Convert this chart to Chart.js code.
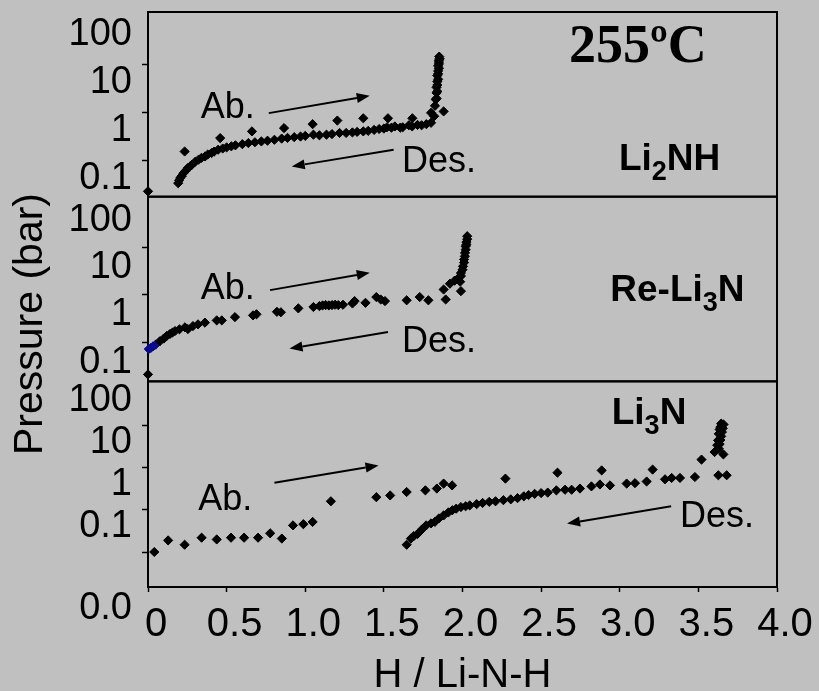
<!DOCTYPE html>
<html>
<head>
<meta charset="utf-8">
<title>PCT isotherms 255ºC</title>
<script src="https://cdn.jsdelivr.net/npm/chart.js@4.4.1/dist/chart.umd.min.js"></script>
<style>
  html, body { margin: 0; padding: 0; background: #c0c0c0; }
  .chart-box { position: relative; width: 819px; height: 691px; }
</style>
</head>
<body>
<div class="chart-box"><canvas id="pctChart" width="819" height="691"></canvas></div>
<script>
const FONT = '"Liberation Sans", Arial, Helvetica, sans-serif';

// H / Li-N-H axis
const xTicks = [0, 0.5, 1, 1.5, 2, 2.5, 3, 3.5, 4];
const xTickLabels = ['0', '0.5', '1.0', '1.5', '2.0', '2.5', '3.0', '3.5', '4.0'];

// pressure axes (bar), one per panel
const upperTicks = [100, 10, 1, 0.1];
const upperTickLabels = ['100', '10', '1', '0.1'];
const lowerTicks = [100, 10, 1, 0.1, 0.01, 0.0015];
const lowerTickLabels = ['100', '10', '1', '0.1', '', '0.0'];

// Li2NH  [H/Li-N-H, bar]
const li2nhAbs = [
  [0, 0.023], [0.233, 0.156], [0.459, 0.297], [0.661, 0.41], [0.865, 0.48], [1.047, 0.58],
  [1.204, 0.69], [1.369, 0.77], [1.526, 0.77], [1.681, 0.77], [1.80, 1.0], [1.825, 1.4],
  [1.835, 2.0], [1.84, 2.8], [1.84, 3.8], [1.845, 5.0], [1.845, 6.5], [1.85, 8.5],
  [1.85, 10.5], [1.85, 12.5], [1.852, 14.9]
];
const li2nhDes = [
  [1.855, 13.5], [1.85, 11.5], [1.845, 9.5], [1.845, 7.5], [1.84, 6.0], [1.84, 4.5],
  [1.835, 3.4], [1.835, 2.6], [1.83, 1.9], [1.88, 1.07], [1.82, 0.85], [1.80, 0.62],
  [1.77, 0.58], [1.74, 0.55], [1.714, 0.56], [1.68, 0.52], [1.659, 0.55], [1.62, 0.50],
  [1.604, 0.49], [1.57, 0.52], [1.548, 0.49], [1.52, 0.50], [1.50, 0.47], [1.47, 0.46],
  [1.438, 0.44], [1.40, 0.42], [1.369, 0.41], [1.33, 0.40], [1.30, 0.39], [1.26, 0.38],
  [1.218, 0.38], [1.17, 0.36], [1.135, 0.35], [1.09, 0.34], [1.052, 0.35], [1.00, 0.33],
  [0.97, 0.32], [0.93, 0.31], [0.887, 0.30], [0.85, 0.29], [0.804, 0.274], [0.76, 0.262],
  [0.721, 0.253], [0.68, 0.243], [0.638, 0.234], [0.60, 0.222], [0.556, 0.21], [0.53, 0.20],
  [0.50, 0.19], [0.475, 0.18], [0.446, 0.17], [0.42, 0.155], [0.404, 0.145], [0.38, 0.135],
  [0.363, 0.123], [0.34, 0.115], [0.321, 0.105], [0.30, 0.095], [0.28, 0.083], [0.265, 0.075],
  [0.252, 0.07], [0.24, 0.062], [0.225, 0.055], [0.215, 0.048], [0.205, 0.044], [0.198, 0.039],
  [0.192, 0.034]
];

// Re-Li3N
const reLi3nAbs = [
  [0, 0.021], [0.076, 0.106], [0.10, 0.12], [0.119, 0.136], [0.14, 0.15], [0.155, 0.16],
  [0.172, 0.173], [0.20, 0.188], [0.235, 0.207], [0.254, 0.19], [0.286, 0.22], [0.318, 0.239],
  [0.362, 0.26], [0.437, 0.29], [0.469, 0.29], [0.553, 0.34], [0.668, 0.37], [0.69, 0.39],
  [0.82, 0.44], [0.845, 0.43], [0.956, 0.52], [1.052, 0.555], [1.09, 0.58], [1.11, 0.60],
  [1.13, 0.61], [1.15, 0.60], [1.17, 0.61], [1.19, 0.62], [1.21, 0.61], [1.24, 0.62],
  [1.30, 0.66], [1.314, 0.74], [1.383, 0.68], [1.452, 0.9], [1.48, 0.8], [1.507, 0.74],
  [1.645, 0.77], [1.728, 0.9], [1.783, 0.77], [1.88, 1.3], [1.92, 1.72], [1.95, 2.0],
  [1.976, 2.3], [1.99, 2.9], [2.003, 4.0], [2.01, 5.6], [2.016, 7.7], [2.02, 10.6],
  [2.025, 13.0], [2.03, 17.3]
];
const reLi3nDes = [
  [2.03, 15.0], [2.025, 11.5], [2.02, 9.0], [2.015, 6.5], [2.01, 4.8], [2.0, 3.4],
  [1.99, 2.5], [1.985, 1.9], [1.99, 1.2], [1.893, 0.8]
];
const reLi3nStart = [[0.005, 0.072], [0.018, 0.076], [0.032, 0.082], [0.048, 0.089]];

// Li3N
const li3nAbs = [
  [0.04, 0.0101], [0.128, 0.019], [0.233, 0.015], [0.341, 0.022], [0.437, 0.020], [0.528, 0.022],
  [0.611, 0.022], [0.70, 0.022], [0.777, 0.028], [0.851, 0.021], [0.922, 0.043], [0.988, 0.046],
  [1.047, 0.052], [1.163, 0.16], [1.452, 0.20], [1.54, 0.22], [1.645, 0.265], [1.764, 0.29],
  [1.837, 0.32], [1.88, 0.42], [1.934, 0.38], [2.273, 0.55], [2.604, 0.76], [2.885, 0.86],
  [3.209, 0.90], [3.52, 1.55], [3.603, 2.34], [3.62, 3.4], [3.625, 4.4], [3.63, 6.3],
  [3.635, 8.0], [3.64, 9.1], [3.645, 11]
];
const li3nDes = [
  [3.66, 10.5], [3.655, 8.5], [3.65, 7.0], [3.645, 5.5], [3.64, 4.5], [3.635, 3.6],
  [3.63, 2.8], [3.659, 2.06], [3.68, 0.66], [3.627, 0.66], [3.478, 0.60], [3.383, 0.57],
  [3.33, 0.57], [3.288, 0.53], [3.171, 0.47], [3.097, 0.43], [3.044, 0.42], [2.938, 0.38],
  [2.874, 0.40], [2.82, 0.36], [2.747, 0.32], [2.694, 0.30], [2.652, 0.30], [2.597, 0.29],
  [2.542, 0.257], [2.50, 0.25], [2.459, 0.24], [2.42, 0.225], [2.39, 0.21], [2.35, 0.19],
  [2.307, 0.178], [2.26, 0.17], [2.21, 0.16], [2.17, 0.155], [2.128, 0.146], [2.09, 0.137],
  [2.046, 0.128], [2.02, 0.122], [1.99, 0.117], [1.96, 0.107], [1.935, 0.098], [1.91, 0.087],
  [1.88, 0.074], [1.85, 0.063], [1.824, 0.052], [1.80, 0.048], [1.769, 0.043], [1.74, 0.034],
  [1.714, 0.027], [1.69, 0.024], [1.672, 0.021], [1.645, 0.015]
];

// text and arrows drawn inside the panels, placed in data units of each panel
const noteTexts = [
  { axis: 'y1', x: 0.335, y: 0.787, parts: ['Ab.'] },
  { axis: 'y1', x: 1.615, y: 0.059, parts: ['Des.'] },
  { axis: 'y1', x: 2.677, y: 11.5, parts: ['255ºC'], serif: true },
  { axis: 'y1', x: 2.995, y: 0.065, parts: ['Li', '_2', 'NH'], bold: true },
  { axis: 'y2', x: 0.335, y: 0.80, parts: ['Ab.'] },
  { axis: 'y2', x: 1.615, y: 0.0616, parts: ['Des.'] },
  { axis: 'y2', x: 2.94, y: 0.73, parts: ['Re-Li', '_3', 'N'], bold: true },
  { axis: 'y3', x: 0.32, y: 0.098, parts: ['Ab.'] },
  { axis: 'y3', x: 3.383, y: 0.0394, parts: ['Des.'] },
  { axis: 'y3', x: 2.949, y: 11.0, parts: ['Li', '_3', 'N'], bold: true }
];
const noteArrows = [
  { axis: 'y1', from: [0.768, 0.986], to: [1.41, 2.26] },
  { axis: 'y1', from: [1.562, 0.169], to: [0.914, 0.076] },
  { axis: 'y2', from: [0.776, 1.26], to: [1.41, 2.93] },
  { axis: 'y2', from: [1.526, 0.165], to: [0.90, 0.0736] },
  { axis: 'y3', from: [0.804, 0.44], to: [1.466, 1.13] },
  { axis: 'y3', from: [3.327, 0.1216], to: [2.665, 0.0474] }
];

function points(rows, axis, color) {
  return {
    data: rows.map(r => ({ x: r[0], y: r[1] })),
    xAxisID: 'x',
    yAxisID: axis,
    showLine: false,
    pointStyle: 'rectRot',
    pointRadius: 4.6,
    pointHoverRadius: 4.6,
    pointBackgroundColor: color,
    pointBorderColor: color,
    pointBorderWidth: 1,
    clip: false
  };
}

function pressureAxis(min, max, ticks, labels, order, stackWeight, labelOffset) {
  return {
    type: 'logarithmic',
    position: 'left',
    stack: 'pressure',
    stackWeight: stackWeight,
    weight: order,
    min: min,
    max: max,
    bounds: 'data',
    afterBuildTicks: scale => { scale.ticks = ticks.map(v => ({ value: v })); },
    afterFit: scale => {
      scale.width = 148;
      scale.paddingTop = 0;
      scale.paddingBottom = 0;
    },
    ticks: {
      autoSkip: false,
      padding: 10,
      labelOffset: labelOffset,
      color: '#000',
      font: ctx => ({ family: FONT, size: 38, lineHeight: labels[ctx.index] === '0.0' ? '10px' : 1.2 }),
      callback: (value, i) => labels[i] === '0.0' ? ['', '0.0'] : labels[i]
    },
    grid: {
      drawOnChartArea: false,
      tickLength: 6,
      tickWidth: 1.5,
      tickColor: ctx => (labels[ctx.index] === '100' || labels[ctx.index] === '0.0') ? 'rgba(0,0,0,0)' : '#000'
    },
    border: { display: false }
  };
}

// boxes round each panel
const panelFrames = {
  id: 'panelFrames',
  beforeDatasetsDraw(chart) {
    const { ctx, chartArea } = chart;
    ctx.save();
    ctx.strokeStyle = '#000';
    ctx.lineWidth = 2;
    ['y1', 'y2', 'y3'].forEach(id => {
      const s = chart.scales[id];
      ctx.strokeRect(chartArea.left, s.top, chartArea.right - chartArea.left, s.bottom - s.top);
    });
    ctx.restore();
  }
};

function drawArrow(ctx, x1, y1, x2, y2) {
  const ang = Math.atan2(y2 - y1, x2 - x1);
  const len = 13, half = 5;
  const bx = x2 - len * Math.cos(ang), by = y2 - len * Math.sin(ang);
  ctx.beginPath();
  ctx.moveTo(x1, y1);
  ctx.lineTo(bx, by);
  ctx.stroke();
  ctx.beginPath();
  ctx.moveTo(x2, y2);
  ctx.lineTo(bx + half * Math.sin(ang), by - half * Math.cos(ang));
  ctx.lineTo(bx - half * Math.sin(ang), by + half * Math.cos(ang));
  ctx.closePath();
  ctx.fill();
}

const panelNotes = {
  id: 'panelNotes',
  afterDatasetsDraw(chart) {
    const { ctx } = chart;
    const xs = chart.scales.x;
    ctx.save();
    ctx.fillStyle = '#000';
    ctx.strokeStyle = '#000';
    ctx.lineWidth = 2;
    ctx.textBaseline = 'alphabetic';
    ctx.textAlign = 'left';

    noteTexts.forEach(n => {
      const ys = chart.scales[n.axis];
      let x = xs.getPixelForValue(n.x);
      const y = ys.getPixelForValue(n.y);
      n.parts.forEach(p => {
        const sub = p.startsWith('_');
        const txt = sub ? p.slice(1) : p;
        if (n.serif) {
          ctx.font = 'bold 54px "Liberation Serif", "Times New Roman", serif';
        } else if (n.bold) {
          ctx.font = 'bold ' + (sub ? 27 : 37) + 'px ' + FONT;
        } else {
          ctx.font = '36px ' + FONT;
        }
        ctx.fillText(txt, x, sub ? y + 10 : y);
        x += ctx.measureText(txt).width;
      });
    });

    noteArrows.forEach(a => {
      const ys = chart.scales[a.axis];
      drawArrow(ctx,
        xs.getPixelForValue(a.from[0]), ys.getPixelForValue(a.from[1]),
        xs.getPixelForValue(a.to[0]), ys.getPixelForValue(a.to[1]));
    });

    // shared pressure title
    ctx.translate(31, 324);
    ctx.rotate(-Math.PI / 2);
    ctx.font = '41px ' + FONT;
    ctx.textAlign = 'center';
    ctx.textBaseline = 'middle';
    ctx.fillText('Pressure (bar)', 0, 0);
    ctx.restore();
  }
};

new Chart(document.getElementById('pctChart'), {
  type: 'scatter',
  data: {
    datasets: [
      points(li2nhAbs, 'y1', '#000'),
      points(li2nhDes, 'y1', '#000'),
      points(reLi3nAbs, 'y2', '#000'),
      points(reLi3nDes, 'y2', '#000'),
      points(reLi3nStart, 'y2', '#0a0a8c'),
      points(li3nAbs, 'y3', '#000'),
      points(li3nDes, 'y3', '#000')
    ]
  },
  options: {
    responsive: false,
    animation: false,
    events: [],
    layout: { padding: { top: 12, right: 42, bottom: 0, left: 0 } },
    plugins: {
      legend: { display: false },
      tooltip: { enabled: false }
    },
    scales: {
      x: {
        type: 'linear',
        position: 'bottom',
        min: 0,
        max: 4,
        bounds: 'data',
        afterBuildTicks: scale => { scale.ticks = xTicks.map(v => ({ value: v })); },
        afterFit: scale => {
          scale.height = 104;
          scale.paddingLeft = 0;
          scale.paddingRight = 0;
        },
        ticks: {
          autoSkip: false,
          maxRotation: 0,
          minRotation: 0,
          padding: 9,
          labelOffset: 8,
          color: '#000',
          font: { family: FONT, size: 40 },
          callback: (v, i) => xTickLabels[i]
        },
        grid: { drawOnChartArea: false, tickLength: 5, tickWidth: 1.5, tickColor: '#000' },
        border: { display: true, color: '#000', width: 2 },
        title: {
          display: true,
          text: 'H / Li-N-H',
          color: '#000',
          font: { family: FONT, size: 40, lineHeight: 1 },
          padding: { top: 0, bottom: -5 }
        }
      },
      y1: pressureAxis(0.0178, 127, upperTicks, upperTickLabels, 3, 185, 18),
      y2: pressureAxis(0.015, 118, upperTicks, upperTickLabels, 2, 185, 20),
      y3: pressureAxis(0.0015, 110, lowerTicks, lowerTickLabels, 1, 206, 17)
    }
  },
  plugins: [panelFrames, panelNotes]
});
</script>
</body>
</html>
